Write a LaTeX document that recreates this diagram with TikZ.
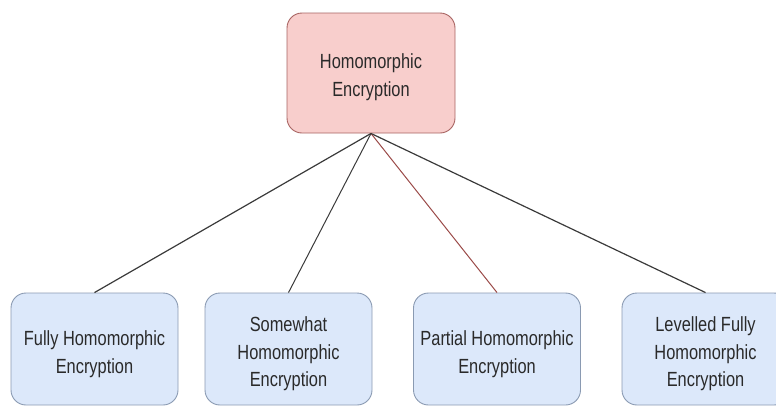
\documentclass[tikz,border=0pt]{standalone}
\usepackage{fontspec}
\setmainfont{Liberation Sans}[FakeStretch=0.8]
\definecolor{rootfill}{HTML}{F8CECC}
\definecolor{rootline}{HTML}{A86462}
\definecolor{leaffill}{HTML}{DCE8FA}
\definecolor{leafline}{HTML}{8A9AB2}
\definecolor{txt}{HTML}{2A2A2A}
\definecolor{linkdark}{HTML}{3A3A3A}
\definecolor{linkred}{HTML}{9A4A48}
\begin{document}
\begin{tikzpicture}[x=1pt,y=-1pt,
  box/.style={rounded corners=15pt, line width=0.9pt, inner sep=0pt},
  rootbox/.style={box, draw=rootline, fill=rootfill, minimum width=168pt, minimum height=120pt},
  leafbox/.style={box, draw=leafline, fill=leaffill, minimum width=167pt, minimum height=112pt},
  lbl/.style={align=center, text=txt, inner sep=0pt,
    font=\fontsize{20.5}{27.5}\selectfont},
  link/.style={line width=1.2pt, draw=linkdark}]
\useasboundingbox (0,0) rectangle (776,408);
\clip (0,0) rectangle (776,408);
% boxes
\node[rootbox] (he) at (371,73) {};
\node[leafbox] (fhe) at (94.5,349) {};
\node[leafbox] (swhe) at (288.5,349) {};
\node[leafbox] (phe) at (497,349) {};
\node[leafbox] (lfhe) at (705.5,349) {};
% box texts, set a little below the box centres
\node[lbl] (he-t) at ([yshift=-4pt]he.center) {Homomorphic\\Encryption};
\node[lbl] (fhe-t) at ([yshift=-5pt]fhe.center) {Fully Homomorphic\\Encryption};
\node[lbl] (swhe-t) at ([yshift=-5pt]swhe.center) {Somewhat\\Homomorphic\\Encryption};
\node[lbl] (phe-t) at ([yshift=-5pt]phe.center) {Partial Homomorphic\\Encryption};
\node[lbl] (lfhe-t) at ([yshift=-5pt]lfhe.center) {Levelled Fully\\Homomorphic\\Encryption};
% links from the root to each kind
\draw[link] (he.south) -- (fhe.north);
\draw[link, line width=1pt] (he.south) -- (swhe.north);
\draw[link, draw=linkred, line width=1pt] (he.south) -- (phe.north);
\draw[link] (he.south) -- (lfhe.north);
\end{tikzpicture}
\end{document}
